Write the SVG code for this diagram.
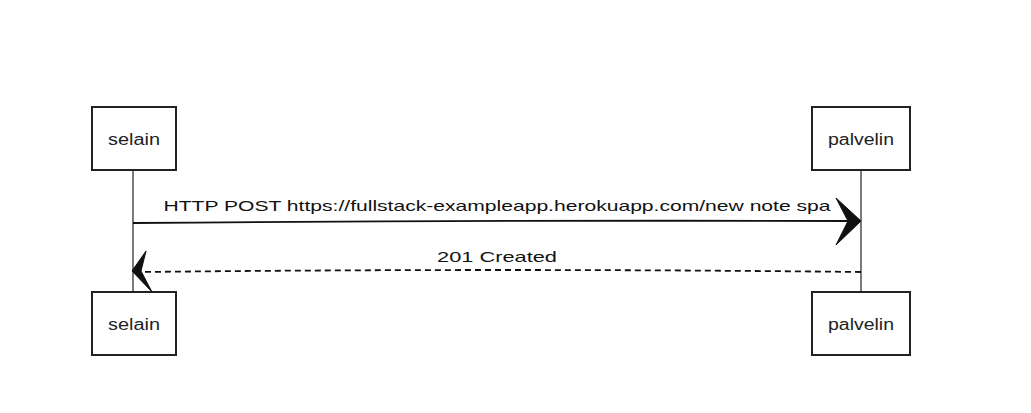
<svg xmlns="http://www.w3.org/2000/svg" width="1031" height="413" viewBox="0 0 1031 413">
<style>
.box{fill:#fff;stroke:#222;stroke-width:2}
.life{stroke:#222;stroke-width:1.2;fill:none}
.lbl{font-family:"Liberation Sans",Arial,sans-serif;font-size:16px;fill:#222;text-anchor:middle}
.msg{font-family:"Liberation Sans",Arial,sans-serif;font-size:15px;fill:#111;text-anchor:middle}
.line{stroke:#111;stroke-width:1.8;fill:none}
.dash{stroke:#111;stroke-width:1.8;fill:none;stroke-dasharray:6,4}
.head{fill:#111;stroke:#111;stroke-width:1}
</style>
<rect width="1031" height="413" fill="#fff"/>
<g id="lifelines">
<path class="life" d="M133 170 L133 292"/>
<path class="life" d="M861 170 L861 292"/>
</g>
<g id="selain-top"><rect class="box" x="92" y="107" width="84" height="63"/><text class="lbl" x="134" y="145" textLength="52" lengthAdjust="spacingAndGlyphs">selain</text></g>
<g id="palvelin-top"><rect class="box" x="812" y="107" width="98" height="63"/><text class="lbl" x="861" y="145" textLength="66" lengthAdjust="spacingAndGlyphs">palvelin</text></g>
<g id="selain-bottom"><rect class="box" x="92" y="292" width="84" height="63"/><text class="lbl" x="134" y="330" textLength="52" lengthAdjust="spacingAndGlyphs">selain</text></g>
<g id="palvelin-bottom"><rect class="box" x="812" y="292" width="98" height="63"/><text class="lbl" x="861" y="330" textLength="66" lengthAdjust="spacingAndGlyphs">palvelin</text></g>
<g id="connectors">
<path class="line" d="M133 223 Q500 220 852 221"/>
<path class="head" d="M861 221 L836 198 L848 221 L836 245 Z"/>
<text class="msg" x="497" y="211" textLength="667" lengthAdjust="spacingAndGlyphs">HTTP POST https://fullstack-exampleapp.herokuapp.com/new note spa</text>
<path class="dash" d="M861 272 Q500 268 142 272"/>
<path class="head" d="M132 271 L146 251 L141 271 L152 292 Z"/>
<text class="msg" x="497" y="262" font-size="16" textLength="120" lengthAdjust="spacingAndGlyphs">201 Created</text>
</g>
</svg>
